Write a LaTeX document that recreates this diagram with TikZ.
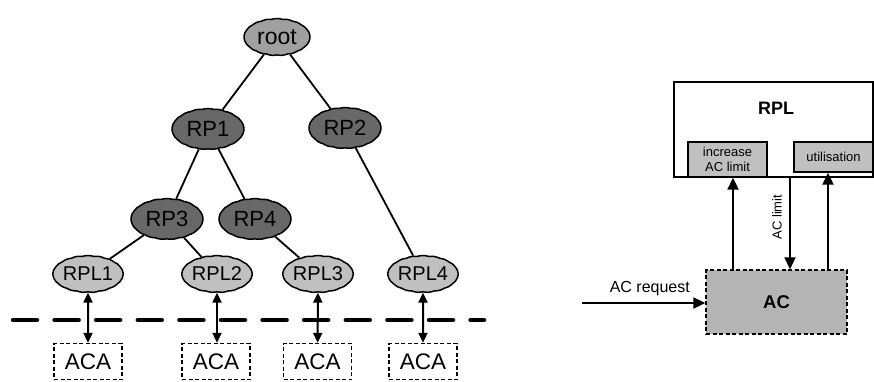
\documentclass[tikz,border=0pt]{standalone}
\usepackage{fontspec}
\setmainfont{Liberation Sans}
\usetikzlibrary{shapes.symbols,arrows.meta,calc}
\definecolor{rootgray}{RGB}{160,160,160}
\definecolor{rpgray}{RGB}{104,104,104}
\definecolor{rplgray}{RGB}{192,192,192}
\definecolor{boxgray}{RGB}{192,192,192}
\definecolor{acgray}{RGB}{180,180,180}
\begin{document}
\begin{tikzpicture}[x=1pt,y=-1pt,
  puff/.style={cloud, cloud puffs=19, cloud puff arc=35, cloud ignores aspect,
    draw=black, line width=1.5pt, inner sep=0pt},
  rootnode/.style={puff, fill=rootgray, minimum width=66pt, minimum height=37pt,
    font=\fontsize{23}{26}\selectfont},
  rpnode/.style={puff, fill=rpgray, minimum width=72pt, minimum height=41pt,
    font=\fontsize{22}{26}\selectfont},
  rplnode/.style={puff, fill=rplgray, minimum width=68pt, minimum height=37pt,
    font=\fontsize{20}{24}\selectfont},
  acabox/.style={draw=black, line width=1.4pt, dash pattern=on 4pt off 2.5pt, fill=white,
    minimum width=68pt, minimum height=36pt, inner sep=0pt, font=\fontsize{22.5}{26}\selectfont},
  treeedge/.style={line width=1.8pt},
  dbltip/.style={{Triangle[length=10pt,width=9pt]}-{Triangle[length=10pt,width=9pt]}, line width=2pt},
  flow/.style={line width=2pt, -{Triangle[length=12pt,width=11pt]}},
  subbox/.style={draw=black, line width=1.4pt, fill=boxgray, minimum width=79pt,
    inner sep=0pt, align=center, font=\fontsize{13}{15}\selectfont},
]
\useasboundingbox (0,0) rectangle (874,381);

% hierarchy of resource pools
\node[rootnode] (root) at (277,37) {root};
\node[rpnode] (rp1) at (208,129) {RP1};
\node[rpnode] (rp2) at (345,128) {RP2};
\node[rpnode] (rp3) at (167,219) {RP3};
\node[rpnode] (rp4) at (255,219) {RP4};
\node[rplnode] (rpl1) at (88,274) {RPL1};
\node[rplnode] (rpl2) at (217,274) {RPL2};
\node[rplnode] (rpl3) at (318,274) {RPL3};
\node[rplnode] (rpl4) at (423,274) {RPL4};

\draw[treeedge] (root) -- (rp1);
\draw[treeedge] (root) -- (rp2);
\draw[treeedge] (rp1) -- (rp3);
\draw[treeedge] (rp1) -- (rp4);
\draw[treeedge] (rp3) -- (rpl1);
\draw[treeedge] (rp3) -- (rpl2);
\draw[treeedge] (rp4) -- (rpl3);
\draw[treeedge] (rp2) -- (rpl4);

% admission control agents
\node[acabox] (aca1) at (88,361.5) {ACA};
\node[acabox] (aca2) at (216,361.5) {ACA};
\node[acabox] (aca3) at (317.5,361.5) {ACA};
\node[acabox] (aca4) at (423,361.5) {ACA};

% separating line
\coordinate (sepl) at (13,320);
\coordinate (sepr) at (484,320);
\draw[line width=4.5pt, line cap=round, dash pattern=on 24pt off 17.6pt] (sepl) -- (sepr);

\draw[dbltip] (rpl1) -- (aca1);
\draw[dbltip] (rpl2.south) -- (rpl2.south |- aca2.north);
\draw[dbltip] (rpl3) -- (aca3);
\draw[dbltip] (rpl4) -- (aca4);

% RPL detail
\node[draw=black, line width=1.4pt, minimum width=199pt, minimum height=95pt, inner sep=0pt] (rplbox) at (773.5,129.5) {};
\node[font=\bfseries\fontsize{18}{22}\selectfont] (rpltitle) at (776,108) {RPL};
\node[subbox, minimum height=35pt] (inc) at (727.5,159.5) {increase\\AC limit};
\node[subbox, minimum height=30pt] (util) at (833.5,157) {utilisation};

\node[draw=black, line width=1.4pt, dash pattern=on 4pt off 2.5pt, fill=acgray, minimum width=141pt, minimum height=64pt,
  inner sep=0pt, font=\bfseries\fontsize{18.5}{22}\selectfont] (ac) at (776.5,302) {AC};

\coordinate (req) at (582,303);
\draw[flow] (req) -- (req -| ac.west) node[pos=0.55, above=3pt, font=\fontsize{16}{19}\selectfont] (reqlabel) {AC request};

\draw[flow] (ac.north -| 733,0) -- (inc.south -| 733,0);
\draw[flow] (ac.north -| 828,0) -- (util.south -| 828,0);
\draw[flow] (rplbox.south -| 790,0) -- (ac.north -| 790,0)
  node[pos=0.43, left=4pt, rotate=90, anchor=south, font=\fontsize{13}{15}\selectfont] (limlabel) {AC limit};
\end{tikzpicture}
\end{document}
